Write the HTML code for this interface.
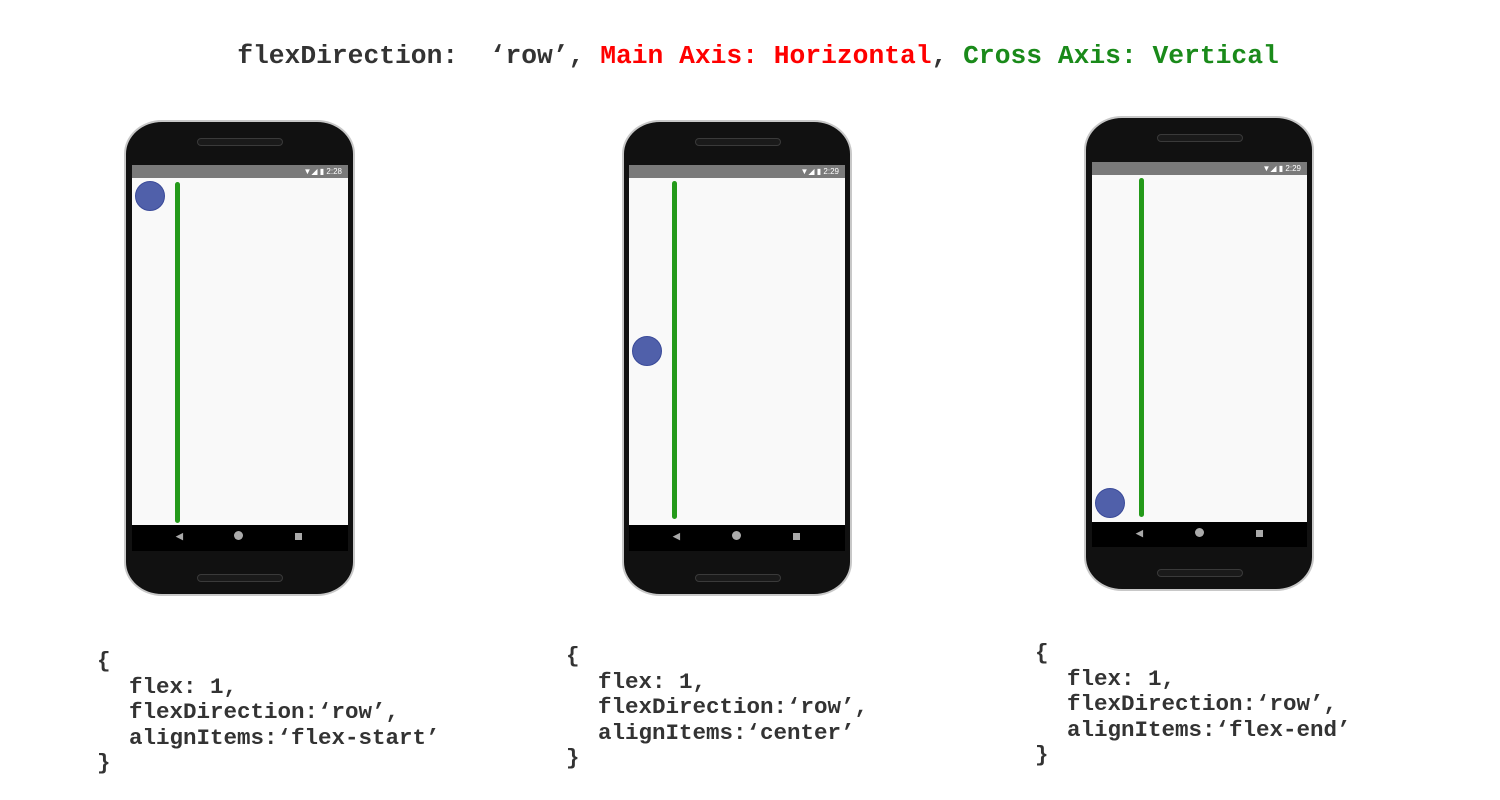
<!DOCTYPE html>
<html><head><meta charset="utf-8"><style>
body{margin:0;width:1500px;height:800px;background:#fff;position:relative;overflow:hidden;font-family:"Liberation Mono",monospace;font-weight:bold;color:#333}
.a{position:absolute}
.title{left:0;width:1516px;top:41px;text-align:center;font-size:26.3px;white-space:pre}
.ph{position:absolute;background:#111;border:2px solid #c8c8c8;border-radius:38px/34px;box-sizing:border-box}
.spk{position:absolute;height:6px;background:#1a1a1a;border:1px solid #3a3a3a;border-radius:4px}
.scr{position:absolute;background:#f9f9f9}
.sb{position:absolute;left:0;right:0;top:0;height:13px;background:#7a7a7a;color:#fff;font-family:"Liberation Sans",sans-serif;font-size:8px;font-weight:normal;line-height:13px;text-align:right;padding-right:6px}
.nav{position:absolute;left:0;right:0;background:#000}
.g{position:absolute;width:5px;background:#249a1a;border-radius:3px}
.c{position:absolute;width:30px;height:30px;border-radius:50%;background:#5060aa;border:1px solid #3a4a99;box-sizing:border-box}
.code{font-size:22.5px;line-height:25.5px;white-space:pre}
.code .i{padding-left:32px}
</style></head><body>
<div class="a title">flexDirection:  ‘row’, <span style="color:#f00">Main Axis: Horizontal</span>, <span style="color:#1a8a1a">Cross Axis: Vertical</span></div>

<!-- phone 1 -->
<div class="ph" style="left:124px;top:120px;width:231px;height:476px"></div>
<div class="spk" style="left:197px;top:138px;width:84px"></div>
<div class="spk" style="left:197px;top:574px;width:84px"></div>
<div class="scr" style="left:132px;top:165px;width:216px;height:386px">
<div class="sb">▼◢ ▮ 2:28</div>
<div class="nav" style="top:360px;height:26px"><span class="a" style="left:44px;top:7px;color:#aaa;font-size:9px">◀</span><span class="a" style="left:102px;top:6px;width:9px;height:9px;border-radius:50%;background:#aaa"></span><span class="a" style="left:163px;top:8px;width:7px;height:7px;background:#aaa"></span></div>
</div>
<div class="g" style="left:175px;top:182px;height:341px"></div>
<div class="c" style="left:135px;top:181px"></div>

<!-- phone 2 -->
<div class="ph" style="left:622px;top:120px;width:230px;height:476px"></div>
<div class="spk" style="left:695px;top:138px;width:84px"></div>
<div class="spk" style="left:695px;top:574px;width:84px"></div>
<div class="scr" style="left:629px;top:165px;width:216px;height:386px">
<div class="sb">▼◢ ▮ 2:29</div>
<div class="nav" style="top:360px;height:26px"><span class="a" style="left:44px;top:7px;color:#aaa;font-size:9px">◀</span><span class="a" style="left:103px;top:6px;width:9px;height:9px;border-radius:50%;background:#aaa"></span><span class="a" style="left:164px;top:8px;width:7px;height:7px;background:#aaa"></span></div>
</div>
<div class="g" style="left:672px;top:181px;height:338px"></div>
<div class="c" style="left:632px;top:336px"></div>

<!-- phone 3 -->
<div class="ph" style="left:1084px;top:116px;width:230px;height:475px"></div>
<div class="spk" style="left:1157px;top:134px;width:84px"></div>
<div class="spk" style="left:1157px;top:569px;width:84px"></div>
<div class="scr" style="left:1092px;top:162px;width:215px;height:385px">
<div class="sb">▼◢ ▮ 2:29</div>
<div class="nav" style="top:360px;height:25px"><span class="a" style="left:44px;top:7px;color:#aaa;font-size:9px">◀</span><span class="a" style="left:103px;top:6px;width:9px;height:9px;border-radius:50%;background:#aaa"></span><span class="a" style="left:164px;top:8px;width:7px;height:7px;background:#aaa"></span></div>
</div>
<div class="g" style="left:1139px;top:178px;height:339px"></div>
<div class="c" style="left:1095px;top:488px"></div>

<div class="a code" style="left:97px;top:649px"><div>{</div><div class="i">flex: 1,</div><div class="i">flexDirection:‘row’,</div><div class="i">alignItems:‘flex-start’</div><div>}</div></div>
<div class="a code" style="left:566px;top:644px"><div>{</div><div class="i">flex: 1,</div><div class="i">flexDirection:‘row’,</div><div class="i">alignItems:‘center’</div><div>}</div></div>
<div class="a code" style="left:1035px;top:641px"><div>{</div><div class="i">flex: 1,</div><div class="i">flexDirection:‘row’,</div><div class="i">alignItems:‘flex-end’</div><div>}</div></div>
</body></html>
